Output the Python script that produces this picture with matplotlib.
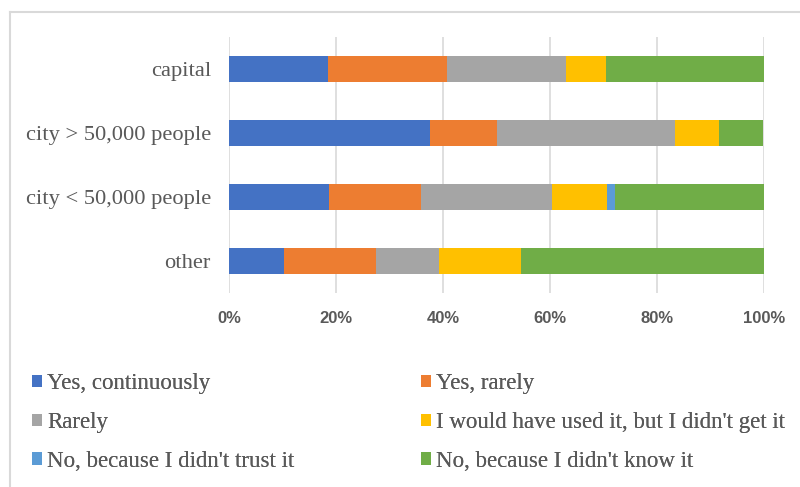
import matplotlib.pyplot as plt
from matplotlib.patches import Patch
from matplotlib.lines import Line2D
import numpy as np

categories = ['capital', 'city > 50,000 people', 'city < 50,000 people', 'other']
series = ['Yes, continuously', 'Yes, rarely', 'Rarely',
          "I would have used it, but I didn't get it",
          "No, because I didn't trust it", "No, because I didn't know it"]
yes_cont = [18.5, 37.5, 18.7, 10.2]
yes_rare = [22.3, 12.5, 17.1, 17.2]
rarely = [22.2, 33.3, 24.6, 11.9]
didnt_get = [7.4, 8.3, 10.2, 15.3]
didnt_trust = [0.0, 0.0, 1.5, 0.0]
didnt_know = [29.6, 8.3, 27.9, 45.4]
colors = ['#4472C4', '#ED7D31', '#A5A5A5', '#FFC000', '#5B9BD5', '#70AD47']

values = [yes_cont, yes_rare, rarely, didnt_get, didnt_trust, didnt_know]

fig = plt.figure(figsize=(8, 4.87), dpi=100)
ax = fig.add_axes([229 / 800, 1 - 293 / 487, (764 - 229) / 800, (293 - 37) / 487])

y = np.arange(len(categories))[::-1]
left = np.zeros(len(categories))
for vals, c in zip(values, colors):
    vals = np.array(vals)
    ax.barh(y, vals, left=left, height=0.4, color=c, zorder=3)
    left += vals

ax.set_xlim(0, 100)
ax.set_ylim(-0.5, 3.5)
ax.set_xticks(np.arange(0, 101, 20))
ax.set_xticklabels([f'{v}%' for v in range(0, 101, 20)],
                   fontfamily='Liberation Sans', fontweight='bold', fontsize=12, color='#595959')
ax.set_yticks(y)
ax.set_yticklabels(categories, fontfamily='Liberation Serif', fontsize=16.2, color='#595959')
ax.tick_params(axis='x', length=0, pad=13)
ax.tick_params(axis='y', length=0, pad=13)
ax.grid(axis='x', color='#d9d9d9', linewidth=1.2, zorder=0)
for s in ax.spines.values():
    s.set_visible(False)

# chart border (runs off right and bottom edges)
fig.add_artist(Line2D([10 / 800, 1.0], [1 - 12 / 487, 1 - 12 / 487], color='#d9d9d9', lw=1.5))
fig.add_artist(Line2D([10 / 800, 10 / 800], [0, 1 - 12 / 487], color='#d9d9d9', lw=1.5))

# legend in two columns, placed separately
handles = [Patch(facecolor=c, label=s) for s, c in zip(series, colors)]
for col, x0 in [(0, 32), (1, 421)]:
    idx = [col, col + 2, col + 4]
    leg = fig.legend([handles[i] for i in idx], [series[i] for i in idx],
                     loc='upper left', bbox_to_anchor=(x0 / 800, 1 - 373 / 487),
                     frameon=False, borderpad=0, borderaxespad=0,
                     handlelength=0.45, handleheight=0.45, handletextpad=0.2,
                     labelspacing=0.78,
                     prop={'family': 'Liberation Serif', 'size': 16.5})
    for t in leg.get_texts():
        t.set_color('#595959')
    fig.add_artist(leg)

fig.savefig('out.png', dpi=100)
